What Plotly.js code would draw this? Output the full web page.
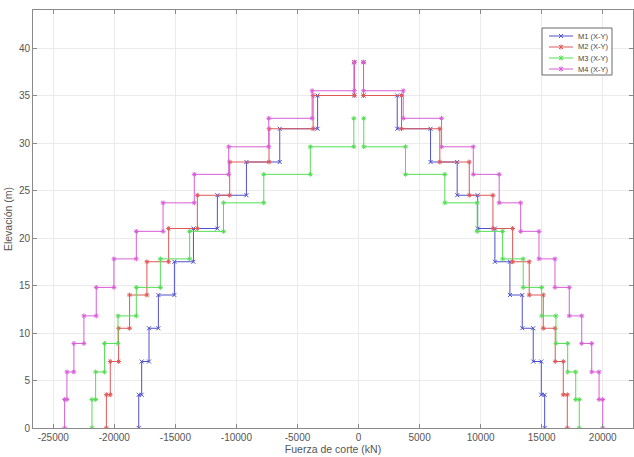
<!DOCTYPE html>
<html>
<head>
<meta charset="utf-8">
<script src="https://cdn.plot.ly/plotly-3.0.1.min.js"></script>
<style>html,body{margin:0;padding:0;background:#fff;}#chart{width:634px;height:457px;}</style>
</head>
<body>
<div id="chart"></div>
<script>
// Elevations of floor levels (m)
const levelsA = [0, 3.5, 7, 10.5, 14, 17.5, 21, 24.5, 28, 31.5, 35, 38.5];          // M1, M2
const levelsB = [0, 3, 5.9, 8.9, 11.8, 14.8, 17.8, 20.7, 23.7, 26.7, 29.6, 32.6, 35.5, 38.5]; // M3, M4

// Story shear (kN), bottom story first
const m1Neg = [-18000, -17760, -17160, -16390, -15080, -13520, -11560, -9180, -6450, -3350, -350];
const m1Pos = [15245, 14970, 14310, 13410, 12400, 11170, 9760, 8080, 5900, 3170, 410];
const m2Neg = [-20650, -20330, -19650, -18750, -17330, -15550, -13200, -10550, -7330, -3720, -350];
const m2Pos = [17100, 16770, 16110, 15130, 13980, 12620, 11010, 9070, 6660, 3520, 410];
const m3Neg = [-21830, -21530, -20800, -19700, -18200, -16230, -13830, -11060, -7760, -3950, -385];
const m3Pos = [18080, 17790, 17130, 16170, 15000, 13490, 11800, 9720, 7070, 3850, 430];
const m4Neg = [-24070, -23880, -23310, -22490, -21480, -20030, -18200, -16010, -13450, -10630, -7350, -3800, -340];
const m4Pos = [20000, 19700, 19100, 18280, 17260, 16090, 14780, 13280, 11520, 9400, 6800, 3660, 410];

const seriesNames = ['M1 (X-Y)', 'M2 (X-Y)', 'M3 (X-Y)', 'M4 (X-Y)'];
const seriesColors = ['#5050cc', '#e05858', '#55dd55', '#d85ed8'];
const seriesSymbols = ['x-thin-open', 'asterisk-open', 'asterisk-open', 'asterisk-open'];

const xTickVals = [-25000, -20000, -15000, -10000, -5000, 0, 5000, 10000, 15000, 20000];
const xTickText = ['-25000', '-20000', '-15000', '-10000', '-5000', '0', '5000', '10000', '15000', '20000'];
const yTickVals = [0, 5, 10, 15, 20, 25, 30, 35, 40];

const W = 634, H = 457;
const M = {l: 33, r: 1, t: 10, b: 29};
const PW = W - M.l - M.r, PH = H - M.t - M.b;
const px = v => (v - M.l) / PW;        // pixel x -> paper x
const py = v => (H - M.b - v) / PH;    // pixel y -> paper y

function stepPath(shear, levels) {
  const x = [], y = [];
  for (let i = 0; i < shear.length; i++) {
    x.push(shear[i], shear[i]);
    y.push(levels[i], levels[i + 1]);
  }
  return {x, y};
}

const groups = [
  [m1Neg, m1Pos, levelsA],
  [m2Neg, m2Pos, levelsA],
  [m3Neg, m3Pos, levelsB],
  [m4Neg, m4Pos, levelsB]
];

const traces = [];
groups.forEach((g, k) => {
  [g[0], g[1]].forEach((arr, side) => {
    const p = stepPath(arr, g[2]);
    traces.push({
      type: 'scatter', mode: 'lines+markers',
      x: p.x, y: p.y,
      name: seriesNames[k], legendgroup: 'g' + k, showlegend: false,
      line: {color: seriesColors[k], width: 1},
      marker: {symbol: seriesSymbols[k], size: 4, color: seriesColors[k], line: {color: seriesColors[k], width: 1}},
      hoverinfo: 'skip'
    });
  });
});

// Compact legend (MATLAB style) built from shapes + annotations
const shapes = [];
const annotations = [];
const box = {x0: 542, x1: 612, y0: 28, y1: 75};
shapes.push({type: 'rect', xref: 'paper', yref: 'paper', x0: px(box.x0), x1: px(box.x1), y0: py(box.y1), y1: py(box.y0),
  line: {color: '#6a6a6a', width: 1}, fillcolor: '#fff', layer: 'above'});
const rowY = [36, 47, 58, 69];
seriesNames.forEach((name, k) => {
  const yy = rowY[k];
  const c = seriesColors[k];
  shapes.push({type: 'line', xref: 'paper', yref: 'paper', x0: px(549), x1: px(573), y0: py(yy), y1: py(yy),
    line: {color: c, width: 1}, layer: 'above'});
  const cx = 561, r = 2;
  shapes.push({type: 'line', xref: 'paper', yref: 'paper', x0: px(cx - r), x1: px(cx + r), y0: py(yy - r), y1: py(yy + r), line: {color: c, width: 1}, layer: 'above'});
  shapes.push({type: 'line', xref: 'paper', yref: 'paper', x0: px(cx - r), x1: px(cx + r), y0: py(yy + r), y1: py(yy - r), line: {color: c, width: 1}, layer: 'above'});
  if (seriesSymbols[k] !== 'x-thin-open') {
    shapes.push({type: 'line', xref: 'paper', yref: 'paper', x0: px(cx), x1: px(cx), y0: py(yy - r - 0.5), y1: py(yy + r + 0.5), line: {color: c, width: 1}, layer: 'above'});
  }
  annotations.push({xref: 'paper', yref: 'paper', x: px(576), y: py(yy), xanchor: 'left', yanchor: 'middle',
    text: name, showarrow: false, font: {family: 'Liberation Sans, Arial, sans-serif', size: 7.5, color: '#444'}});
});

const axisCommon = {
  showgrid: true, gridcolor: '#ebebeb', gridwidth: 1,
  zeroline: false, showline: true, linecolor: '#8a8a8a', linewidth: 1,
  mirror: 'ticks', ticks: 'inside', ticklen: 4, tickcolor: '#8a8a8a',
  tickfont: {family: 'Liberation Sans, Arial, sans-serif', size: 10, color: '#555'}
};

const layout = {
  width: W, height: H,
  margin: M,
  paper_bgcolor: '#fff', plot_bgcolor: '#fff',
  showlegend: false,
  xaxis: Object.assign({}, axisCommon, {
    range: [-26660, 22480], tickvals: xTickVals, ticktext: xTickText,
    title: {text: 'Fuerza de corte (kN)', standoff: 3, font: {family: 'Liberation Sans, Arial, sans-serif', size: 10.5, color: '#555'}}
  }),
  yaxis: Object.assign({}, axisCommon, {
    range: [0, 44], tickvals: yTickVals,
    title: {text: 'Elevación (m)', standoff: 4, font: {family: 'Liberation Sans, Arial, sans-serif', size: 10.5, color: '#555'}}
  }),
  shapes: shapes,
  annotations: annotations
};

Plotly.newPlot('chart', traces, layout, {displayModeBar: false, staticPlot: true});
</script>
</body>
</html>
